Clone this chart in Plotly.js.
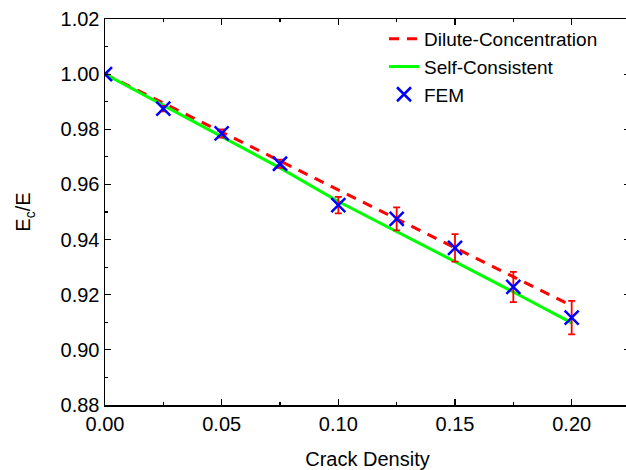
<!DOCTYPE html>
<html>
<head>
<meta charset="utf-8">
<script src="https://cdn.plot.ly/plotly-3.0.1.min.js"></script>
<style>
html,body{margin:0;padding:0;overflow:hidden;background:#fff;}
#chart{width:630px;height:470px;}
</style>
</head>
<body>
<div id="chart"></div>
<script>
// Crack density values
const crackDensity = [0, 0.025, 0.05, 0.075, 0.1, 0.125, 0.15, 0.175, 0.2];
// Dilute-Concentration model
const diluteValues = [1.000, 0.9895, 0.979, 0.9685, 0.958, 0.9475, 0.937, 0.9265, 0.916];
// Self-Consistent model
const selfConsistentValues = [1.000, 0.9887, 0.9773, 0.966, 0.9538, 0.943, 0.932, 0.921, 0.9098];
// FEM results and their error bars
const femValues = [1.000, 0.9875, 0.9785, 0.9675, 0.9525, 0.9475, 0.937, 0.9228, 0.9117];
const femErrors = [0, 0.001, 0.0015, 0.0015, 0.003, 0.0042, 0.005, 0.0055, 0.0061];
const yTickValues = [0.88, 0.90, 0.92, 0.94, 0.96, 0.98, 1.00, 1.02];
const xTickValues = [0.00, 0.05, 0.10, 0.15, 0.20];

const FONT = 'Arial, "Liberation Sans", sans-serif';

const traces = [
  {
    x: crackDensity, y: diluteValues, name: 'Dilute-Concentration',
    type: 'scatter', mode: 'lines',
    line: {color: '#ff0000', width: 3, dash: '10px,8px'}
  },
  {
    x: crackDensity, y: selfConsistentValues, name: 'Self-Consistent',
    type: 'scatter', mode: 'lines',
    line: {color: '#00ff00', width: 3}
  },
  {
    x: crackDensity, y: femValues, name: 'FEM',
    type: 'scatter', mode: 'markers',
    marker: {symbol: 'x-thin', size: 14, color: '#0000ff', line: {color: '#0000ff', width: 2.5}},
    error_y: {type: 'data', array: femErrors, visible: true, color: '#ff0000', thickness: 1.8, width: 3.5}
  }
];

const axisCommon = {
  showline: true, linecolor: '#000', linewidth: 1.5, mirror: 'allticks',
  ticks: 'inside', ticklen: 6, tickwidth: 1.2, tickcolor: '#000',
  showgrid: false, zeroline: false,
  tickfont: {family: FONT, size: 20, color: '#000'}
};

const layout = {
  width: 630, height: 470,
  margin: {l: 105, r: 0, t: 19, b: 65},
  paper_bgcolor: '#fff', plot_bgcolor: '#fff',
  font: {family: FONT, size: 20, color: '#000'},
  showlegend: true,
  legend: {
    x: (384 - 105) / 525, y: (405 - 20) / 386, xanchor: 'left', yanchor: 'top',
    bgcolor: 'rgba(0,0,0,0)', borderwidth: 0, tracegroupgap: 0,
    font: {family: FONT, size: 19, color: '#000'}
  },
  xaxis: Object.assign({}, axisCommon, {
    range: [0, 0.225], tickvals: xTickValues, tickformat: '.2f',
    minor: {dtick: 0.025, tick0: 0, ticks: 'inside', ticklen: 3, tickwidth: 1.2, tickcolor: '#000'},
    title: {text: 'Crack Density', font: {family: FONT, size: 20, color: '#000'}, standoff: 20}
  }),
  yaxis: Object.assign({}, axisCommon, {
    range: [0.88, 1.02], tickvals: yTickValues, tickformat: '.2f',
    minor: {dtick: 0.01, tick0: 0.88, ticks: 'inside', ticklen: 3, tickwidth: 1.2, tickcolor: '#000'},
    title: {text: 'E<sub>c</sub>/E', font: {family: FONT, size: 20, color: '#000'}, standoff: 24}
  })
};

Plotly.newPlot('chart', traces, layout, {displayModeBar: false, staticPlot: true});
</script>
</body>
</html>
